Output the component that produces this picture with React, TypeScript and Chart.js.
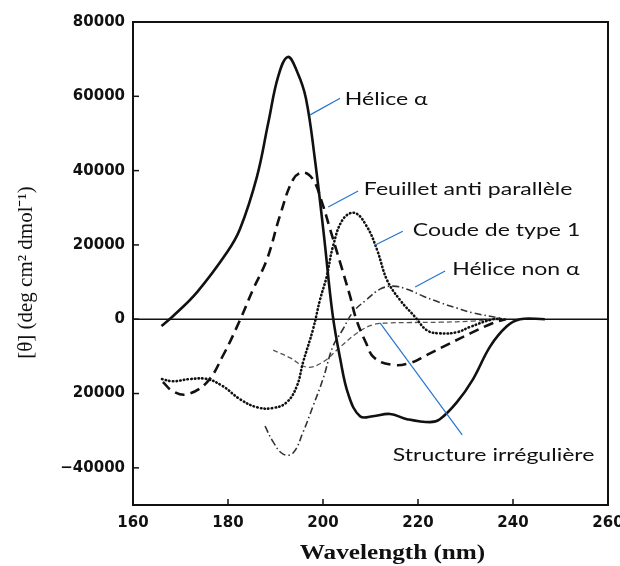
import React, { useEffect, useRef } from 'react';
import { Chart, registerables } from 'chart.js';

Chart.register(...registerables);

// ---- axes ----
const xTicks = [160, 180, 200, 220, 240, 260];
const yTicks = [-40000, -20000, 0, 20000, 40000, 60000, 80000];
const yTickLabels = ['\u221240000', '20000', '0', '20000', '40000', '60000', '80000'];
const xTitle = 'Wavelength (nm)';
const yTitle = '[\u03b8] (deg cm\u00b2 dmol\u207b\u00b9)';

// ---- series (wavelength nm, ellipticity) ----
const heliceAlphaNm = [166.0, 168.4, 173.5, 179.8, 182.5, 186.1, 188.5, 190.6, 192.6, 194.6, 196.4, 198.3, 200.2, 202.0, 203.6, 205.4, 207.8, 210.5, 214.1, 217.7, 222.5, 224.6, 228.2, 231.6, 235.2, 238.7, 241.5, 246.7];
const heliceAlphaVal = [-1800, 800, 7300, 18000, 24200, 38400, 53000, 65500, 70600, 66500, 59500, 43000, 22500, 1500, -10500, -20500, -26100, -26100, -25500, -26900, -27700, -26900, -22300, -16100, -7300, -1900, 0, 0];

const feuilletNm = [166.3, 168.4, 171.4, 175.6, 178.9, 182.5, 185.3, 188.2, 190.9, 193.7, 195.8, 197.9, 199.8, 201.5, 203.6, 205.7, 207.0, 209.0, 210.8, 214.7, 218.3, 221.9, 226.1, 231.0, 235.8, 238.5];
const feuilletVal = [-16900, -19400, -20200, -16900, -9900, -300, 8100, 16100, 27700, 37600, 39500, 37600, 31400, 24200, 15300, 6200, 0, -6200, -10400, -12300, -11800, -9600, -6900, -3800, -1000, 0];

const coudeNm = [166.1, 168.4, 172.0, 175.6, 178.9, 182.5, 186.1, 189.5, 192.4, 194.5, 195.8, 197.9, 199.4, 200.8, 202.1, 204.2, 206.7, 209.3, 211.4, 213.5, 216.2, 219.4, 221.9, 224.6, 228.2, 230.9, 235.8, 238.0];
const coudeVal = [-16100, -16700, -16100, -16100, -18000, -21500, -23700, -23900, -22300, -18000, -11600, -2700, 5400, 11600, 19600, 26900, 28600, 24800, 18600, 10500, 5200, 600, -3000, -3800, -3500, -2100, 0, 0];

const nonAlphaNm = [187.8, 189.5, 191.6, 193.7, 195.8, 197.9, 200.0, 202.1, 204.2, 206.3, 209.3, 212.0, 214.7, 217.7, 221.1, 224.6, 228.2, 231.6, 237.3];
const nonAlphaVal = [-28800, -33000, -36300, -36000, -30400, -23400, -16100, -7300, -2700, 1900, 5400, 8100, 8900, 8100, 6200, 4500, 3000, 1700, 300];

const irregNm = [189.5, 193.1, 196.6, 200.0, 203.6, 207.2, 210.5, 214.1, 217.7, 224.6, 231.6, 237.3];
const irregVal = [-8300, -10400, -12900, -11500, -7500, -3700, -1500, -1000, -900, -800, -500, 0];

// ---- annotations (data coordinates) ----
const annotationTexts = ['H\u00e9lice \u03b1', 'Feuillet anti parall\u00e8le', 'Coude de type 1', 'H\u00e9lice non \u03b1', 'Structure irr\u00e9guli\u00e8re'];
const annotationLabelX = [204.6, 208.6, 218.9, 227.2, 214.7];
const annotationLabelY = [59300, 35000, 24000, 13600, -36500];
const pointerFromX = [197.3, 201.1, 210.9, 219.4, 212.0];
const pointerFromY = [55000, 30200, 19900, 8700, -1000];
const pointerToX = [203.6, 207.4, 216.8, 225.7, 229.3];
const pointerToY = [59500, 34500, 23700, 13000, -31100];

const toPoints = (xs: number[], ys: number[]) => xs.map((x, i) => ({ x, y: ys[i] }));

const STRETCH = 1.28;

const framePlugin = {
  id: 'frame',
  beforeDatasetsDraw(chart: any) {
    const { ctx, chartArea, scales } = chart;
    const { left, right, top, bottom } = chartArea;
    ctx.save();
    ctx.strokeStyle = '#111';
    // zero line
    ctx.lineWidth = 1.5;
    const y0 = scales.y.getPixelForValue(0);
    ctx.beginPath();
    ctx.moveTo(left, y0);
    ctx.lineTo(right, y0);
    ctx.stroke();
    // top + right frame
    ctx.lineWidth = 2;
    ctx.beginPath();
    ctx.moveTo(left, top);
    ctx.lineTo(right, top);
    ctx.lineTo(right, bottom);
    ctx.stroke();
    // inward ticks
    ctx.lineWidth = 1.5;
    yTicks.forEach((v) => {
      const py = scales.y.getPixelForValue(v);
      ctx.beginPath();
      ctx.moveTo(left, py);
      ctx.lineTo(left + 6, py);
      ctx.stroke();
    });
    xTicks.forEach((v) => {
      const px = scales.x.getPixelForValue(v);
      ctx.beginPath();
      ctx.moveTo(px, bottom);
      ctx.lineTo(px, bottom - 6);
      ctx.stroke();
    });
    ctx.restore();
  },
  afterDraw(chart: any) {
    const { ctx, scales, chartArea } = chart;
    ctx.save();
    // pointer lines
    ctx.strokeStyle = '#2675d0';
    ctx.lineWidth = 1.2;
    annotationTexts.forEach((t, i) => {
      ctx.beginPath();
      ctx.moveTo(scales.x.getPixelForValue(pointerFromX[i]), scales.y.getPixelForValue(pointerFromY[i]));
      ctx.lineTo(scales.x.getPixelForValue(pointerToX[i]), scales.y.getPixelForValue(pointerToY[i]));
      ctx.stroke();
    });
    // labels
    ctx.fillStyle = '#111';
    ctx.font = '18px Lato, "Open Sans", sans-serif';
    ctx.textBaseline = 'middle';
    ctx.textAlign = 'left';
    annotationTexts.forEach((t, i) => {
      ctx.save();
      ctx.translate(scales.x.getPixelForValue(annotationLabelX[i]), scales.y.getPixelForValue(annotationLabelY[i]));
      ctx.scale(STRETCH, 1);
      ctx.fillText(t, 0, 0);
      ctx.restore();
    });
    // x axis title
    ctx.save();
    ctx.font = 'bold 20px "Liberation Serif", serif';
    ctx.textAlign = 'center';
    ctx.textBaseline = 'alphabetic';
    ctx.translate((chartArea.left + chartArea.right) / 2 + 22, 559);
    ctx.scale(1.26, 1);
    ctx.fillText(xTitle, 0, 0);
    ctx.restore();
    // y axis title
    ctx.save();
    ctx.font = '21px "Liberation Serif", serif';
    ctx.textAlign = 'center';
    ctx.textBaseline = 'middle';
    ctx.translate(26, (chartArea.top + chartArea.bottom) / 2 + 9);
    ctx.rotate(-Math.PI / 2);
    ctx.fillText(yTitle, 0, 0);
    ctx.restore();
    ctx.restore();
  },
};

export default function App() {
  const canvasRef = useRef<HTMLCanvasElement | null>(null);

  useEffect(() => {
    document.body.style.margin = '0';
    const canvas = canvasRef.current;
    if (!canvas) return;
    const tickFont = { family: '"DejaVu Sans", sans-serif', weight: 'bold' as const, size: 15 };
    const common = { pointRadius: 0, tension: 0.4 };
    const chart = new Chart(canvas, {
      type: 'line',
      data: {
        datasets: [
          {
            label: 'Hélice α',
            data: toPoints(heliceAlphaNm, heliceAlphaVal),
            borderColor: '#111',
            borderWidth: 2.6,
            ...common,
          },
          {
            label: 'Feuillet anti parallèle',
            data: toPoints(feuilletNm, feuilletVal),
            borderColor: '#111',
            borderWidth: 2.6,
            borderDash: [10, 6],
            ...common,
          },
          {
            label: 'Coude de type 1',
            data: toPoints(coudeNm, coudeVal),
            borderColor: '#111',
            borderWidth: 2.6,
            borderDash: [0.5, 3.2],
            borderCapStyle: 'round',
            ...common,
          },
          {
            label: 'Hélice non α',
            data: toPoints(nonAlphaNm, nonAlphaVal),
            borderColor: '#333',
            borderWidth: 1.6,
            borderDash: [7, 3, 1.5, 3],
            ...common,
          },
          {
            label: 'Structure irrégulière',
            data: toPoints(irregNm, irregVal),
            borderColor: '#555',
            borderWidth: 1.3,
            borderDash: [5, 3],
            ...common,
          },
        ],
      },
      options: {
        animation: false,
        responsive: false,
        events: [],
        layout: { padding: { top: 22, right: 12, left: 0, bottom: 0 } },
        plugins: { legend: { display: false }, tooltip: { enabled: false } },
        scales: {
          x: {
            type: 'linear',
            min: 160,
            max: 260,
            afterBuildTicks: (s: any) => {
              s.ticks = xTicks.map((v) => ({ value: v }));
            },
            afterFit: (s: any) => {
              s.height = 61;
              s.paddingLeft = 0;
              s.paddingRight = 0;
            },
            grid: { display: false, drawTicks: false },
            border: { display: true, color: '#111', width: 2 },
            ticks: { font: tickFont, color: '#111', padding: 9, maxRotation: 0, autoSkip: false },
            title: { display: false },
          },
          y: {
            type: 'linear',
            min: -50000,
            max: 80000,
            afterBuildTicks: (s: any) => {
              s.ticks = yTicks.map((v) => ({ value: v }));
            },
            afterFit: (s: any) => {
              s.width = 133;
              s.paddingTop = 0;
              s.paddingBottom = 0;
            },
            grid: { display: false, drawTicks: false },
            border: { display: true, color: '#111', width: 2 },
            ticks: {
              font: tickFont,
              color: '#111',
              padding: 8,
              callback: (v: any) => {
                const i = yTicks.indexOf(Number(v));
                return i >= 0 ? yTickLabels[i] : '';
              },
            },
            title: { display: false },
          },
        },
      },
      plugins: [framePlugin],
    });
    return () => chart.destroy();
  }, []);

  return (
    <div style={{ position: 'relative', width: 620, height: 566, background: '#fff' }}>
      <canvas ref={canvasRef} width={620} height={566} />
    </div>
  );
}
